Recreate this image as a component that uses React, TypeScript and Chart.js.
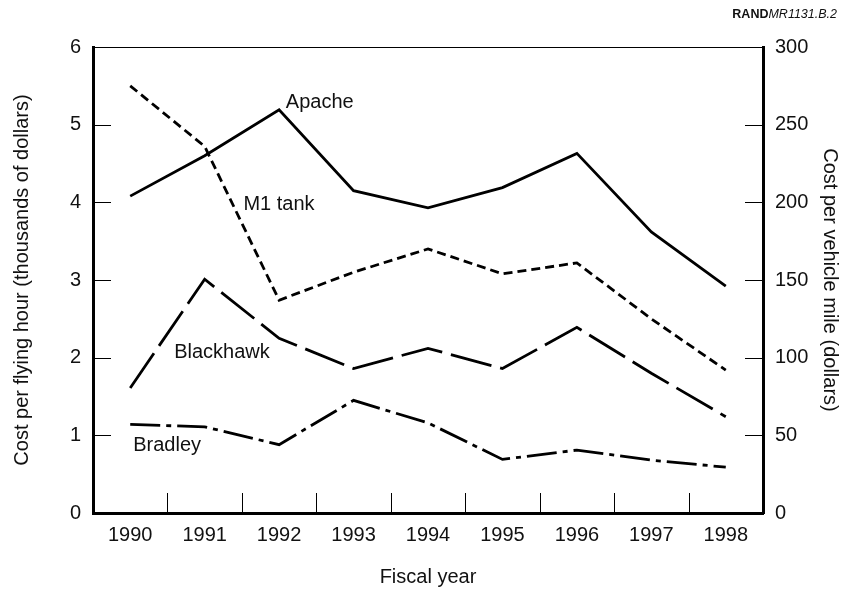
import React, { useEffect, useRef } from "react";
import { Chart, registerables } from "chart.js";

Chart.register(...registerables);

const years = ["1990", "1991", "1992", "1993", "1994", "1995", "1996", "1997", "1998"];
// Left axis: cost per flying hour (thousands of dollars)
const apache = [4.08, 4.6, 5.19, 4.15, 3.93, 4.19, 4.63, 3.62, 2.92];
const blackhawk = [1.61, 3.01, 2.25, 1.86, 2.12, 1.86, 2.39, 1.8, 1.24];
// Right axis: cost per vehicle mile (dollars)
const m1Tank = [275, 236, 137, 155, 170, 154, 161, 125, 92];
const bradley = [57, 55.5, 44, 72.5, 58, 34.5, 40.5, 34, 29.5];

const leftTicks = [0, 1, 2, 3, 4, 5, 6];
const rightTicks = [0, 50, 100, 150, 200, 250, 300];

const FONT = "'Liberation Sans', Arial, Helvetica, sans-serif";

const seriesLabels = [
  { text: "Apache", x: 2.09, y: 5.29 },
  { text: "M1 tank", x: 1.52, y: 3.97 },
  { text: "Blackhawk", x: 0.59, y: 2.07 },
  { text: "Bradley", x: 0.04, y: 0.875 },
];

const overlay = {
  id: "overlay",
  afterDraw(chart: any) {
    const { ctx, chartArea, scales } = chart;
    const xs = scales.x;
    const yl = scales.y;
    const yr = scales.y1;
    ctx.save();
    ctx.strokeStyle = "#000";
    ctx.lineWidth = 1;
    const line = (x1: number, y1: number, x2: number, y2: number) => {
      ctx.beginPath();
      ctx.moveTo(x1, y1);
      ctx.lineTo(x2, y2);
      ctx.stroke();
    };
    // top frame line
    line(chartArea.left, Math.round(chartArea.top) + 0.5, chartArea.right, Math.round(chartArea.top) + 0.5);
    // inner ticks left
    leftTicks.forEach((v) => {
      if (v > 0 && v < 6) {
        const py = Math.round(yl.getPixelForValue(v)) + 0.5;
        line(chartArea.left, py, chartArea.left + 18, py);
      }
    });
    rightTicks.forEach((v) => {
      if (v > 0 && v < 300) {
        const py = Math.round(yr.getPixelForValue(v)) + 0.5;
        line(chartArea.right - 18, py, chartArea.right, py);
      }
    });
    for (let i = 0; i < years.length - 1; i++) {
      const px = Math.round((xs.getPixelForValue(i) + xs.getPixelForValue(i + 1)) / 2) + 0.5;
      line(px, chartArea.bottom - 20, px, chartArea.bottom);
    }
    // series labels
    ctx.fillStyle = "#111";
    ctx.font = `20px ${FONT}`;
    ctx.textBaseline = "middle";
    ctx.textAlign = "left";
    const step = xs.getPixelForValue(1) - xs.getPixelForValue(0);
    seriesLabels.forEach((l) => {
      const px = xs.getPixelForValue(0) + l.x * step;
      ctx.fillText(l.text, px, yl.getPixelForValue(l.y));
    });
    // source tag
    ctx.textBaseline = "alphabetic";
    ctx.textAlign = "right";
    ctx.font = `italic 12.5px ${FONT}`;
    const tag = "MR1131.B.2";
    const right = 837;
    ctx.fillText(tag, right, 18);
    const w = ctx.measureText(tag).width;
    ctx.font = `bold 12.5px ${FONT}`;
    ctx.fillText("RAND", right - w, 18);
    ctx.restore();
  },
};

export default function App() {
  const ref = useRef<HTMLCanvasElement | null>(null);
  useEffect(() => {
    if (!ref.current) return;
    const common = { pointRadius: 0, borderColor: "#000", borderWidth: 2.8, fill: false, tension: 0, borderJoinStyle: "miter" as const, borderCapStyle: "butt" as const };
    const chart = new Chart(ref.current, {
      type: "line",
      data: {
        labels: years,
        datasets: [
          { ...common, label: "Apache", data: apache, yAxisID: "y" },
          { ...common, label: "M1 tank", data: m1Tank, yAxisID: "y1", borderDash: [9, 5] },
          { ...common, label: "Blackhawk", data: blackhawk, yAxisID: "y", borderDash: [42, 9] },
          { ...common, label: "Bradley", data: bradley, yAxisID: "y1", borderDash: [30, 6, 5, 6] },
        ],
      },
      options: {
        responsive: false,
        animation: false,
        devicePixelRatio: 1,
        layout: { padding: { top: 47, left: 0, right: 0, bottom: 0 } },
        plugins: { legend: { display: false }, tooltip: { enabled: false } },
        scales: {
          x: {
            type: "category",
            offset: true,
            grid: { display: true, drawOnChartArea: false, drawTicks: false, offset: true },
            border: { display: true, width: 3, color: "#000" },
            ticks: { color: "#111", font: { family: FONT, size: 20 }, padding: 10, maxRotation: 0 },
            title: { display: true, text: "Fiscal year", color: "#111", font: { family: FONT, size: 20 }, padding: { top: 0, bottom: 0 } },
            afterFit: (s: any) => { s.height = 76; },
          },
          y: {
            position: "left",
            min: 0,
            max: 6,
            afterBuildTicks: (s: any) => { s.ticks = leftTicks.map((v) => ({ value: v })); },
            grid: { display: true, drawOnChartArea: false, drawTicks: false },
            border: { display: true, width: 3, color: "#000" },
            ticks: { color: "#111", font: { family: FONT, size: 20 }, padding: 12 },
            title: { display: true, text: "Cost per flying hour (thousands of dollars)", color: "#111", font: { family: FONT, size: 20 }, padding: { top: 10, bottom: 0 } },
            afterFit: (s: any) => { s.width = 93; },
          },
          y1: {
            position: "right",
            min: 0,
            max: 300,
            afterBuildTicks: (s: any) => { s.ticks = rightTicks.map((v) => ({ value: v })); },
            grid: { display: true, drawOnChartArea: false, drawTicks: false },
            border: { display: true, width: 3, color: "#000" },
            ticks: { color: "#111", font: { family: FONT, size: 20 }, padding: 12 },
            title: { display: true, text: "Cost per vehicle mile (dollars)", color: "#111", font: { family: FONT, size: 20 }, padding: { top: 2, bottom: 0 } },
            afterFit: (s: any) => { s.width = 81; },
          },
        },
      },
      plugins: [overlay],
    });
    return () => chart.destroy();
  }, []);
  return (
    <div style={{ position: "absolute", left: 0, top: 0, width: 844, height: 589, background: "#fff" }}>
      <canvas ref={ref} width={844} height={589} style={{ display: "block" }} />
    </div>
  );
}
